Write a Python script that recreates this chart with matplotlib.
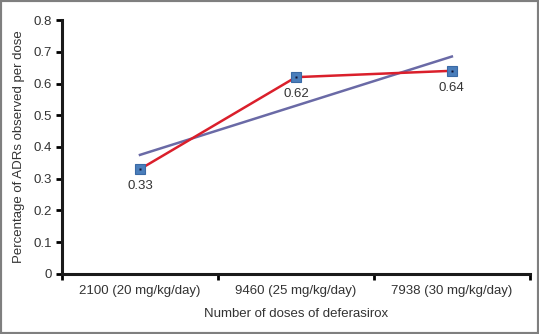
import matplotlib
matplotlib.use("Agg")
import matplotlib.pyplot as plt
import numpy as np
from matplotlib.patches import Rectangle

plt.rcParams['font.family'] = ['Liberation Sans', 'DejaVu Sans']

categories = ["2100 (20 mg/kg/day)", "9460 (25 mg/kg/day)", "7938 (30 mg/kg/day)"]
values = [0.33, 0.62, 0.64]
value_labels = ["0.33", "0.62", "0.64"]
y_ticks = [0, 0.1, 0.2, 0.3, 0.4, 0.5, 0.6, 0.7, 0.8]

fig = plt.figure(figsize=(5.39, 3.34), dpi=100)
ax = fig.add_axes([0.115, 0.180, 0.868, 0.760])

x = np.arange(len(categories))
# linear trendline through the observed values
slope, intercept = np.polyfit(x, values, 1)
ax.plot(x, slope * x + intercept, color="#6A6AA6", lw=1.8, zorder=2)
ax.plot(x, values, color="#DA1F2B", lw=1.8, zorder=3)
ax.plot(x, values, ls="none", marker="s", ms=7, mfc="#4A7EBB",
        mec="#3A6AA5", mew=0.8, zorder=4)
ax.plot(x, values, ls="none", marker="s", ms=2, mfc="#111133",
        mec="none", zorder=5)

for xi, v, lab in zip(x, values, value_labels):
    ax.annotate(lab, (xi, v), xytext=(0, -8), textcoords="offset points",
                ha="center", va="top", fontsize=9.5, color="#333333")

ax.set_xlim(-0.5, 2.5)
ax.set_ylim(0, 0.8)
ax.set_yticks(y_ticks)
ax.set_yticklabels([f"{t:g}" for t in y_ticks])
ax.set_xticks(x)
ax.set_xticklabels(categories)
ax.set_xticks([-0.5, 0.5, 1.5, 2.5], minor=True)
ax.tick_params(axis="x", which="major", length=0, pad=8, labelsize=9.5, labelcolor="#333333")
ax.tick_params(axis="x", which="minor", length=4, width=2, direction="out")
ax.tick_params(axis="y", length=4, width=2, direction="out", pad=3,
               labelsize=9.5, labelcolor="#333333")

for s in ["top", "right"]:
    ax.spines[s].set_visible(False)
for s in ["left", "bottom"]:
    ax.spines[s].set_linewidth(2.2)
    ax.spines[s].set_color("#1a1a1a")

ax.set_xlabel("Number of doses of deferasirox", fontsize=9.5, color="#333333", labelpad=8)
ax.set_ylabel("Percentage of ADRs observed per dose", fontsize=9.5, color="#333333", labelpad=6)

fig.patches.append(Rectangle((0, 0), 1, 1, transform=fig.transFigure, fill=False,
                             edgecolor="#7f7f7f", lw=3))

fig.savefig("out.png", dpi=100)
